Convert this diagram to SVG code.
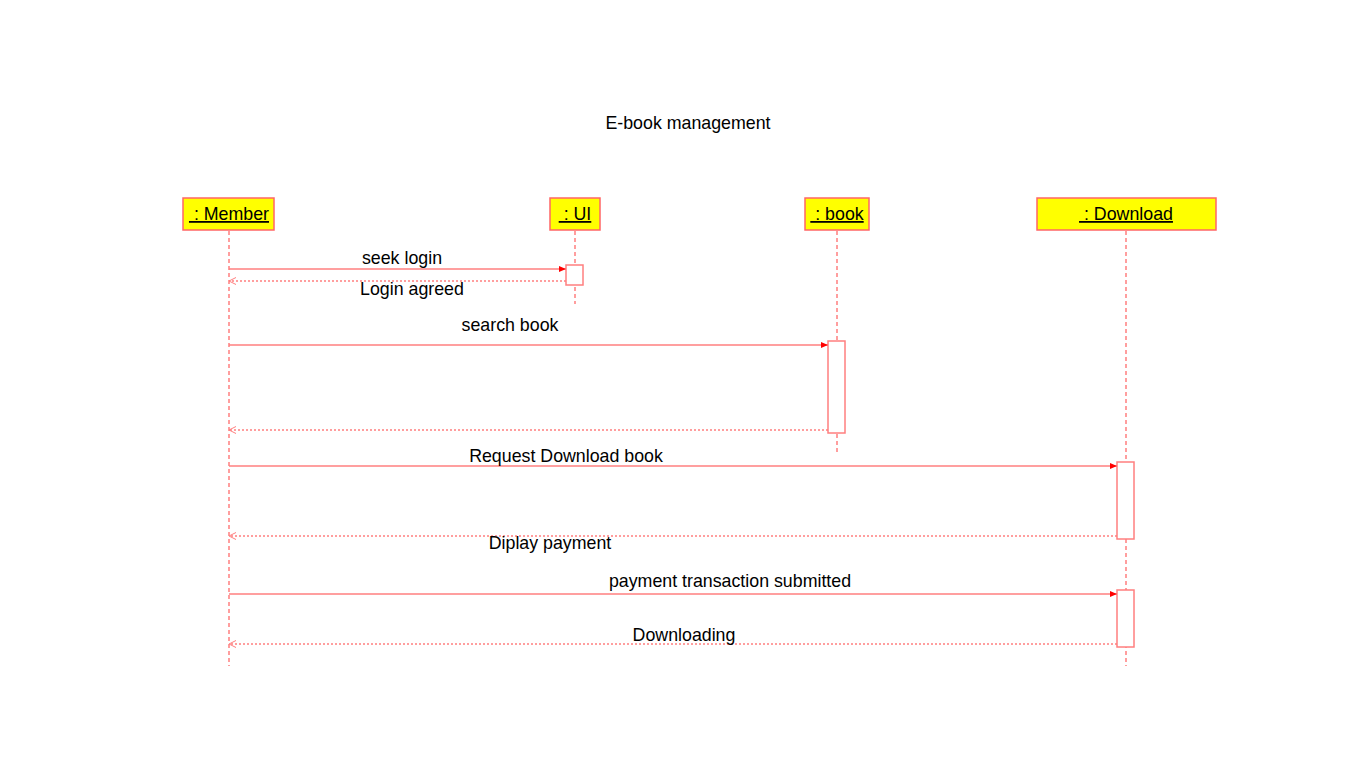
<svg xmlns="http://www.w3.org/2000/svg" width="1360" height="758" viewBox="0 0 1360 758">
<style>
text{font-family:"Liberation Sans",Arial,sans-serif;font-size:17.8px;fill:#000}
.head{fill:#ffff00;stroke:#ff6666;stroke-width:1.5}
.hl{text-decoration:underline;text-anchor:middle;white-space:pre}
.life{stroke:#ff7f7f;stroke-width:1.5;stroke-dasharray:4,3;fill:none}
.act{fill:#fff;stroke:#ff7f7f;stroke-width:1.5}
.call{stroke:#ff7f7f;stroke-width:1.4;fill:none}
.ret{stroke:#ff7f7f;stroke-width:1.4;stroke-dasharray:2,2;fill:none}
.lbl{text-anchor:middle}
</style>
<defs>
<marker id="fill" markerWidth="8" markerHeight="8" refX="7" refY="4" orient="auto" markerUnits="userSpaceOnUse">
<path d="M0,1 L7,4 L0,7 Z" fill="#ff0000"/>
</marker>
<marker id="open" markerWidth="8" markerHeight="8" refX="7" refY="4" orient="auto" markerUnits="userSpaceOnUse">
<path d="M0,0.5 L7,4 L0,7.5" fill="none" stroke="#ff7f7f" stroke-width="1"/>
</marker>
</defs>
<rect width="1360" height="758" fill="#fff"/>
<text x="688" y="129" class="lbl">E-book management</text>

<g id="member">
<line class="life" x1="229" y1="231" x2="229" y2="666"/>
<rect class="head" x="183" y="198" width="91" height="32"/>
<text class="hl" x="229" y="220" xml:space="preserve"> : Member</text>
</g>
<g id="ui">
<line class="life" x1="575" y1="231" x2="575" y2="304"/>
<rect class="head" x="550" y="198" width="50" height="32"/>
<text class="hl" x="575" y="220" xml:space="preserve"> : UI</text>
<rect class="act" x="566" y="265" width="17" height="20"/>
</g>
<g id="book">
<line class="life" x1="837" y1="231" x2="837" y2="453"/>
<rect class="head" x="805" y="198" width="64" height="32"/>
<text class="hl" x="837" y="220" xml:space="preserve"> : book</text>
<rect class="act" x="828" y="341" width="17" height="92"/>
</g>
<g id="download">
<line class="life" x1="1126" y1="231" x2="1126" y2="666"/>
<rect class="head" x="1037" y="198" width="179" height="32"/>
<text class="hl" x="1126" y="220" xml:space="preserve"> : Download</text>
<rect class="act" x="1117" y="462" width="17" height="77"/>
<rect class="act" x="1117" y="590" width="17" height="57"/>
</g>

<g id="connectors">
<line class="call" x1="229" y1="269" x2="566" y2="269" marker-end="url(#fill)"/>
<text class="lbl" x="402" y="264">seek login</text>
<line class="ret" x1="566" y1="281" x2="229" y2="281" marker-end="url(#open)"/>
<text class="lbl" x="412" y="295">Login agreed</text>
<line class="call" x1="229" y1="345" x2="828" y2="345" marker-end="url(#fill)"/>
<text class="lbl" x="510" y="331">search book</text>
<line class="ret" x1="828" y1="430" x2="229" y2="430" marker-end="url(#open)"/>
<line class="call" x1="229" y1="466" x2="1117" y2="466" marker-end="url(#fill)"/>
<text class="lbl" x="566" y="462">Request Download book</text>
<line class="ret" x1="1117" y1="536" x2="229" y2="536" marker-end="url(#open)"/>
<text class="lbl" x="550" y="549">Diplay payment</text>
<line class="call" x1="229" y1="594" x2="1117" y2="594" marker-end="url(#fill)"/>
<text class="lbl" x="730" y="587">payment transaction submitted</text>
<line class="ret" x1="1117" y1="644" x2="229" y2="644" marker-end="url(#open)"/>
<text class="lbl" x="684" y="641">Downloading</text>
</g>
</svg>
